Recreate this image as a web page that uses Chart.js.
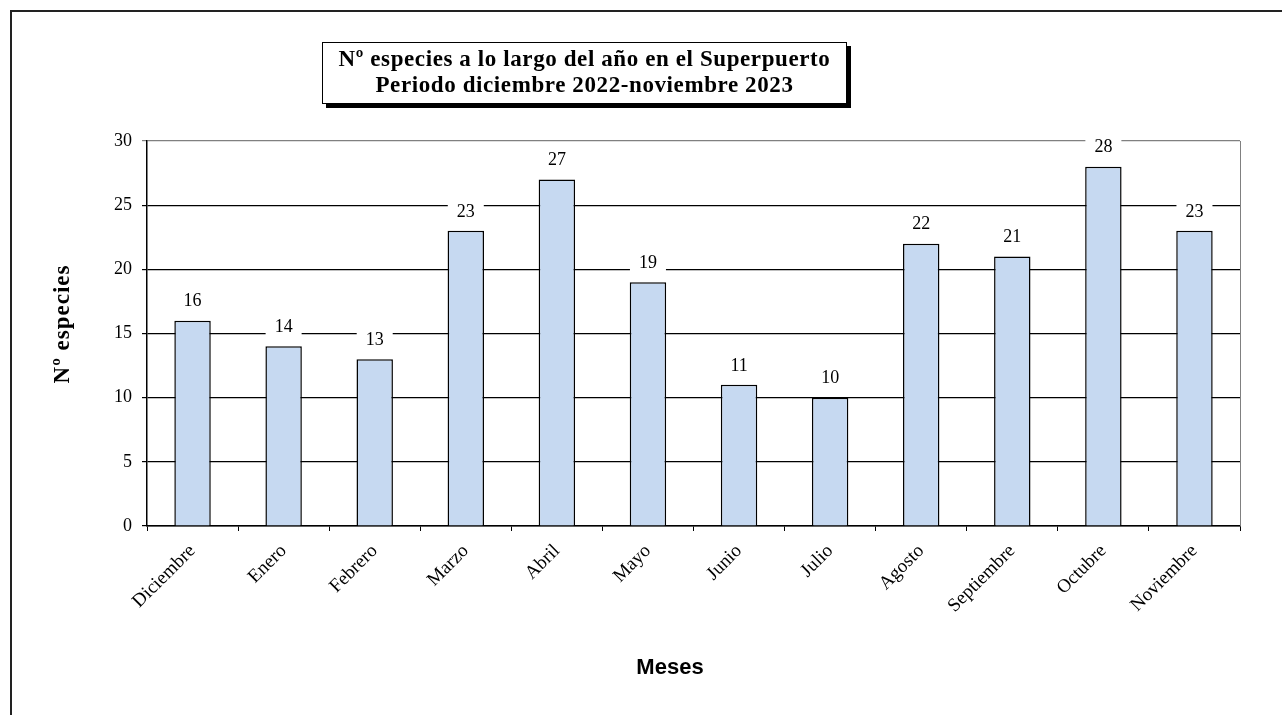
<!DOCTYPE html>
<html lang="es">
<head>
  <meta charset="UTF-8">
  <title>Nº especies Superpuerto</title>
  <script src="https://cdn.jsdelivr.net/npm/chart.js"></script>
  <style>
    html, body { margin: 0; padding: 0; background: #fff; }
    #frame { position: absolute; left: 10px; top: 10px; width: 1300px; height: 720px;
             border-left: 2px solid #222; border-top: 2px solid #222; }
    #wrap { position: absolute; left: 0; top: 0; width: 1282px; height: 715px; }
    #titleBox { position: absolute; left: 322px; top: 42px; width: 523px; height: 57px;
                border: 1.5px solid #000; box-shadow: 4px 4px 0 #000; background: #fff;
                font-family: 'Liberation Serif', 'Times New Roman', serif; font-weight: bold;
                font-size: 23px; letter-spacing: 0.6px; line-height: 26px; text-align: center;
                padding-top: 3px; white-space: nowrap; }
  </style>
</head>
<body>
  <div id="frame"></div>
  <div id="wrap"><canvas id="chart" width="1282" height="715"></canvas></div>
  <div id="titleBox">Nº especies a lo largo del año en el Superpuerto<br>Periodo diciembre 2022-noviembre 2023</div>

  <script>
    const meses = ['Diciembre', 'Enero', 'Febrero', 'Marzo', 'Abril', 'Mayo',
                   'Junio', 'Julio', 'Agosto', 'Septiembre', 'Octubre', 'Noviembre'];
    const especies = [16, 14, 13, 23, 27, 19, 11, 10, 22, 21, 28, 23];
    const yMin = 0, yMax = 30, yStep = 5;
    const tituloX = 'Meses';
    const tituloY = 'Nº especies';

    // etiquetas de valor con fondo blanco encima de cada barra
    const valueLabels = {
      id: 'valueLabels',
      afterDatasetsDraw(chart) {
        const ctx = chart.ctx;
        const meta = chart.getDatasetMeta(0);
        ctx.save();
        ctx.font = '18px "Liberation Serif", serif';
        ctx.textAlign = 'center';
        ctx.textBaseline = 'middle';
        meta.data.forEach((bar, i) => {
          const y = bar.y - 20;
          ctx.fillStyle = '#fff';
          ctx.fillRect(bar.x - 18, y - 10, 36, 20);
          ctx.fillStyle = '#000';
          ctx.fillText(String(especies[i]), bar.x, y + 1);
        });
        ctx.restore();
      }
    };

    // borde derecho gris + titulos de los ejes
    const plotExtras = {
      id: 'plotExtras',
      beforeDatasetsDraw(chart) {
        const { ctx, chartArea: a } = chart;
        ctx.save();
        ctx.strokeStyle = '#808080';
        ctx.lineWidth = 1;
        ctx.beginPath();
        ctx.moveTo(a.right + 0.5, a.top);
        ctx.lineTo(a.right + 0.5, a.bottom);
        ctx.stroke();
        ctx.restore();
      },
      afterDraw(chart) {
        const ctx = chart.ctx;
        ctx.save();
        ctx.fillStyle = '#000';
        ctx.textAlign = 'center';
        ctx.textBaseline = 'middle';
        ctx.font = 'bold 22px "Liberation Sans", Arial, sans-serif';
        ctx.fillText(tituloX, 670, 668);
        ctx.translate(63, 324);
        ctx.rotate(-Math.PI / 2);
        ctx.font = 'bold 23px "Liberation Serif", serif';
        ctx.letterSpacing = '1px';
        ctx.fillText(tituloY, 0, 0);
        ctx.restore();
      }
    };

    new Chart(document.getElementById('chart'), {
      type: 'bar',
      data: {
        labels: meses,
        datasets: [{
          data: especies,
          backgroundColor: '#C6D9F1',
          borderColor: '#000',
          borderWidth: 1.5,
          barPercentage: 0.4,
          categoryPercentage: 1
        }]
      },
      options: {
        responsive: false,
        animation: false,
        layout: { padding: { left: 47, right: 42, top: 141, bottom: 31 } },
        plugins: { legend: { display: false }, tooltip: { enabled: false } },
        scales: {
          x: {
            afterFit(s) { s.height = 158; },
            grid: { drawOnChartArea: false, drawTicks: true, tickLength: 5, color: '#000' },
            border: { color: '#000', width: 1.5 },
            ticks: { color: '#000', minRotation: 45, maxRotation: 45, padding: 9,
                     font: { family: '"Liberation Serif", serif', size: 19 } }
          },
          y: {
            min: yMin, max: yMax,
            afterFit(s) { s.width = 100; },
            grid: { tickLength: 5, lineWidth: 1.2,
                    color: c => c.tick && c.tick.value === yMax ? '#808080' : '#000' },
            border: { color: '#000', width: 1.5 },
            ticks: { stepSize: yStep, color: '#000', padding: 10,
                     font: { family: '"Liberation Serif", serif', size: 18 } }
          }
        }
      },
      plugins: [plotExtras, valueLabels]
    });
  </script>
</body>
</html>
